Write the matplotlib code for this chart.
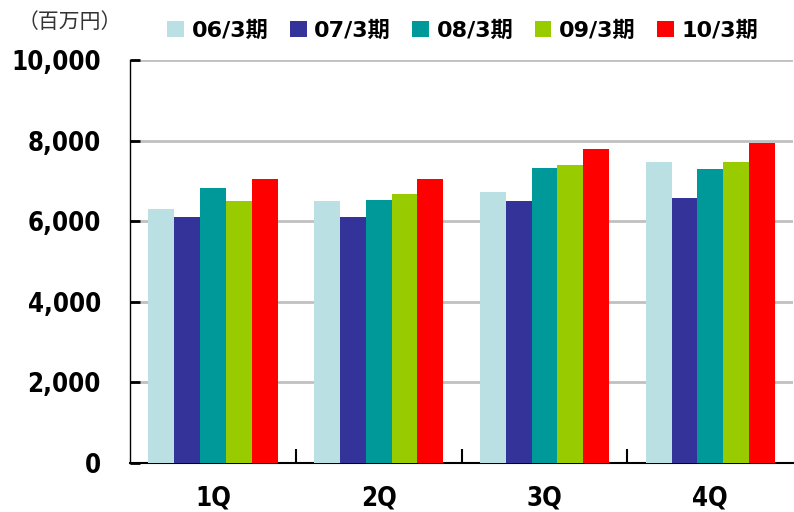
import numpy as np
import matplotlib.pyplot as plt
import matplotlib as mpl
from matplotlib.ticker import FuncFormatter

mpl.rcParams['font.family'] = ['DejaVu Sans', 'Noto Sans CJK JP']

quarters = ['1Q', '2Q', '3Q', '4Q']
periods = ['06/3期', '07/3期', '08/3期', '09/3期', '10/3期']
values = {
    '06/3期': [6300, 6500, 6720, 7460],
    '07/3期': [6100, 6100, 6500, 6570],
    '08/3期': [6820, 6520, 7330, 7290],
    '09/3期': [6500, 6670, 7390, 7460],
    '10/3期': [7040, 7040, 7800, 7930],
}
colors = ['#bbe0e3', '#333399', '#009999', '#99cc00', '#ff0000']

fig = plt.figure(figsize=(7.94, 5.12), dpi=100)
ax = fig.add_axes([0.1637, 0.0957, 0.8353, 0.7871])

x = np.arange(len(quarters))
w = 0.156
for i, p in enumerate(periods):
    ax.bar(x + (i - 2) * w, values[p], width=w, color=colors[i], label=p, zorder=3)

ax.set_xlim(-0.5, 3.5)
ax.set_ylim(0, 10000)
ax.set_yticks(np.arange(0, 10001, 2000))
ax.yaxis.set_major_formatter(FuncFormatter(lambda v, pos: f'{int(v):,}'))
ax.set_xticks(x)
ax.set_xticklabels(quarters)
ax.set_xticks(np.arange(0.5, 3.5, 1), minor=True)

for v in range(2000, 10001, 2000):
    ax.axhline(v, color='#c0c0c0', lw=2, zorder=1)

for s in ['top', 'right']:
    ax.spines[s].set_visible(False)
ax.spines['left'].set_color('#000000')
ax.spines['left'].set_linewidth(1)
ax.spines['bottom'].set_linewidth(1.5)

ax.tick_params(axis='y', direction='in', length=7, width=2, pad=21)
ax.tick_params(axis='x', which='major', length=0, pad=16)
ax.tick_params(axis='x', which='minor', direction='in', length=10, width=1.5, color='black')
for lab in ax.get_yticklabels() + ax.get_xticklabels():
    lab.set_fontsize(18.5)
    lab.set_fontweight('bold')
    lab.set_fontstretch('condensed')

fig.text(0.022, 0.958, '（百万円）', fontsize=15, color='#333333', va='center',
         family=['Noto Sans CJK JP'])

fig.legend(loc='center', bbox_to_anchor=(0.583, 0.94), ncol=5, frameon=False,
           handlelength=0.75, handleheight=0.75, handletextpad=0.35, columnspacing=0.95,
           prop={'family': ['DejaVu Sans', 'Noto Sans CJK JP'], 'weight': 'bold', 'size': 16})

fig.savefig('out.png', dpi=100)
